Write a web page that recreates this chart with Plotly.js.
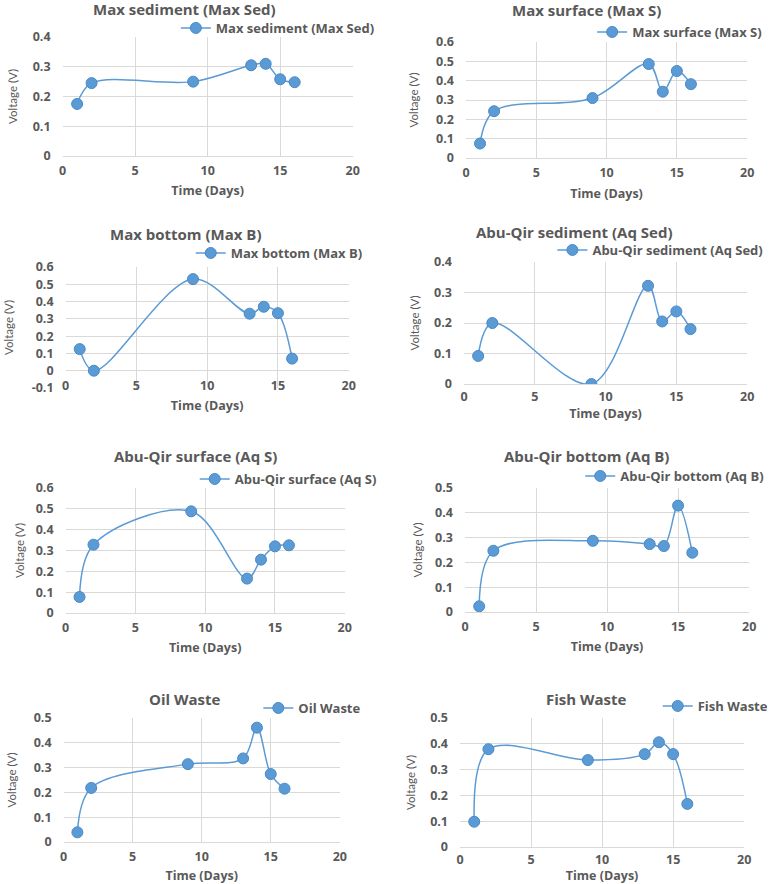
<!DOCTYPE html>
<html>
<head>
<meta charset="utf-8">
<script src="https://cdn.plot.ly/plotly-3.0.1.min.js"></script>
<style>
  html, body { margin: 0; padding: 0; background: #ffffff; }
  #chart { width: 774px; height: 884px; }
</style>
</head>
<body>
<div id="chart"></div>
<script>
// Sampling days shared by every series
const days = [1, 2, 9, 13, 14, 15, 16];

// Measured voltage (V) per site
const maxSediment   = [0.175, 0.245, 0.250, 0.305, 0.310, 0.258, 0.248];
const maxSurface    = [0.075, 0.242, 0.310, 0.486, 0.343, 0.450, 0.382];
const maxBottom     = [0.125, 0.000, 0.530, 0.330, 0.370, 0.333, 0.070];
const aqSediment    = [0.092, 0.200, 0.000, 0.322, 0.205, 0.238, 0.180];
const aqSurface     = [0.077, 0.328, 0.488, 0.165, 0.256, 0.320, 0.325];
const aqBottom      = [0.023, 0.247, 0.287, 0.274, 0.266, 0.429, 0.239];
const oilWaste      = [0.039, 0.218, 0.314, 0.337, 0.461, 0.274, 0.215];
const fishWaste     = [0.098, 0.379, 0.337, 0.360, 0.406, 0.360, 0.167];

const seriesNames = [
  'Max sediment (Max Sed)', 'Max surface (Max S)',
  'Max bottom (Max B)', 'Abu-Qir sediment (Aq Sed)',
  'Abu-Qir surface (Aq S)', 'Abu-Qir bottom (Aq B)',
  'Oil Waste', 'Fish Waste'
];
const seriesValues = [maxSediment, maxSurface, maxBottom, aqSediment,
                      aqSurface, aqBottom, oilWaste, fishWaste];

// Axis ranges and tick labels
const xTickVals = [0, 5, 10, 15, 20];
const xTickText = ['0', '5', '10', '15', '20'];
const yRanges = [[0, 0.4], [0, 0.6], [-0.1, 0.6], [0, 0.4],
                 [0, 0.6], [0, 0.5], [0, 0.5], [0, 0.5]];
const yTickTextByPanel = [
  ['0', '0.1', '0.2', '0.3', '0.4'],
  ['0', '0.1', '0.2', '0.3', '0.4', '0.5', '0.6'],
  ['-0.1', '0', '0.1', '0.2', '0.3', '0.4', '0.5', '0.6'],
  ['0', '0.1', '0.2', '0.3', '0.4'],
  ['0', '0.1', '0.2', '0.3', '0.4', '0.5', '0.6'],
  ['0', '0.1', '0.2', '0.3', '0.4', '0.5'],
  ['0', '0.1', '0.2', '0.3', '0.4', '0.5'],
  ['0', '0.1', '0.2', '0.3', '0.4', '0.5']
];
const yTickValsByPanel = yTickTextByPanel.map(a => a.map(Number));

// ---- page geometry (pixels) ----
const W = 774, H = 884;
// plot box [left, top, right, bottom], title centre, legend anchor,
// gaps used for tick labels / axis titles
const frames = [
  { box: [63, 37, 355, 156],  title: [186, 9],   legend: [177, 28],  xLab: 5,   xTitle: 8,  yTitle: 12 },
  { box: [469, 42, 752, 158], title: [590, 10],  legend: [596, 32],  xLab: 5,   xTitle: 9,  yTitle: 15 },
  { box: [66, 267, 351, 388], title: [187, 234], legend: [192, 253], xLab: -12, xTitle: 8,  yTitle: 15 },
  { box: [467, 262, 752, 384],title: [578, 232], legend: [556, 250], xLab: 3,   xTitle: 5,  yTitle: 12 },
  { box: [66, 488, 347, 613], title: [197, 456], legend: [196, 479], xLab: 5,   xTitle: 8,  yTitle: 8 },
  { box: [468, 488, 754, 612],title: [590, 456], legend: [584, 476], xLab: 5,   xTitle: 8,  yTitle: 10 },
  { box: [64, 718, 342, 842], title: [186, 699], legend: [260, 708], xLab: 5,   xTitle: 8,  yTitle: 14 },
  { box: [463, 718, 749, 847],title: [590, 699], legend: [662, 706], xLab: 3,   xTitle: 6,  yTitle: 12 }
];

const BLUE = '#5B9BD5';
const GREY_TEXT = '#595959';
const GRID = '#D9D9D9';
const FONT = 'Open Sans, DejaVu Sans, sans-serif';

const traces = [];
const layout = {
  width: W, height: H,
  margin: { l: 0, r: 0, t: 0, b: 0 },
  paper_bgcolor: '#ffffff',
  plot_bgcolor: '#ffffff',
  showlegend: true,
  annotations: []
};

seriesValues.forEach((vals, i) => {
  const n = i + 1;
  const suffix = n === 1 ? '' : String(n);
  const f = frames[i];
  const [l, t, r, b] = f.box;

  traces.push({
    type: 'scatter',
    mode: 'lines+markers',
    x: days,
    y: vals,
    name: seriesNames[i],
    xaxis: 'x' + suffix,
    yaxis: 'y' + suffix,
    legend: 'legend' + suffix,
    line: { color: BLUE, width: 1.5, shape: 'spline', smoothing: 1 },
    marker: { color: BLUE, size: 11, line: { color: '#4A89C6', width: 1 } },
    hoverinfo: 'x+y'
  });

  layout['xaxis' + suffix] = {
    domain: [l / W, r / W],
    anchor: 'y' + suffix,
    range: [0, 20],
    tickvals: xTickVals,
    ticktext: xTickText,
    showgrid: true, gridcolor: GRID, gridwidth: 1,
    zeroline: false, showline: false, ticks: '',
    ticklabelstandoff: f.xLab,
    tickfont: { family: FONT, size: 12.5, color: GREY_TEXT, weight: 'bold' },
    title: {
      text: 'Time (Days)',
      standoff: f.xTitle,
      font: { family: FONT, size: 12.5, color: GREY_TEXT, weight: 'bold' }
    },
    fixedrange: true
  };

  layout['yaxis' + suffix] = {
    domain: [1 - b / H, 1 - t / H],
    anchor: 'x' + suffix,
    range: yRanges[i],
    tickvals: yTickValsByPanel[i],
    ticktext: yTickTextByPanel[i],
    showgrid: true, gridcolor: GRID, gridwidth: 1,
    zeroline: true, zerolinecolor: GRID, zerolinewidth: 1,
    showline: false, ticks: '',
    ticklabelstandoff: 11,
    tickfont: { family: FONT, size: 12.5, color: GREY_TEXT, weight: 'bold' },
    title: {
      text: 'Voltage (V)',
      standoff: f.yTitle,
      font: { family: 'Lato, Open Sans, sans-serif', size: 11.5, color: GREY_TEXT }
    },
    fixedrange: true
  };

  layout['legend' + suffix] = {
    x: f.legend[0] / W,
    y: 1 - f.legend[1] / H,
    xanchor: 'left',
    yanchor: 'middle',
    xref: 'paper', yref: 'paper',
    bgcolor: 'rgba(0,0,0,0)',
    borderwidth: 0,
    font: { family: FONT, size: 13, color: GREY_TEXT, weight: 'bold' }
  };

  layout.annotations.push({
    text: seriesNames[i],
    xref: 'paper', yref: 'paper',
    x: f.title[0] / W, y: 1 - f.title[1] / H,
    xanchor: 'center', yanchor: 'middle',
    showarrow: false,
    font: { family: FONT, size: 15, color: GREY_TEXT, weight: 'bold' }
  });
});

Plotly.newPlot('chart', traces, layout, { staticPlot: true, displayModeBar: false });
</script>
</body>
</html>
